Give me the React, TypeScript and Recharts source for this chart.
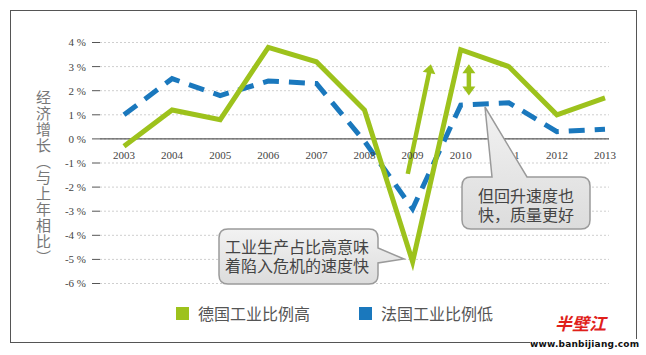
import { LineChart, Line, XAxis, YAxis, CartesianGrid, ReferenceLine, LabelList } from 'recharts';

const years = [2003, 2004, 2005, 2006, 2007, 2008, 2009, 2010, 2011, 2012, 2013];
const germany = [-0.3, 1.2, 0.8, 3.8, 3.2, 1.2, -5.1, 3.7, 3.0, 1.0, 1.7];
const france = [1.0, 2.5, 1.8, 2.4, 2.3, -0.1, -2.9, 1.4, 1.5, 0.3, 0.4];
const yTicks = [-6, -5, -4, -3, -2, -1, 0, 1, 2, 3, 4];

const GREEN = '#9dc21c';
const BLUE = '#1a78bd';
const TEXT = '#444';
const CJK = '"Noto Sans CJK SC", "Noto Sans", sans-serif';

const data = years.map((year, i) => ({ year, germany: germany[i], france: france[i] }));

// arrow drawn along a reference segment, head at the end (and start if both)
function arrowShape(both: boolean) {
  return (p: any) => {
    const { x1, y1, x2, y2 } = p;
    const a = Math.atan2(y2 - y1, x2 - x1);
    const L = 9;
    const W = 6.5;
    const head = (x: number, y: number, ang: number) => {
      const bx = x - L * Math.cos(ang);
      const by = y - L * Math.sin(ang);
      const nx = -Math.sin(ang) * W;
      const ny = Math.cos(ang) * W;
      return `${x},${y} ${bx + nx},${by + ny} ${bx - nx},${by - ny}`;
    };
    const sx = both ? x1 + (L - 1) * Math.cos(a) : x1;
    const sy = both ? y1 + (L - 1) * Math.sin(a) : y1;
    const ex = x2 - (L - 1) * Math.cos(a);
    const ey = y2 - (L - 1) * Math.sin(a);
    return (
      <g>
        <line x1={sx} y1={sy} x2={ex} y2={ey} stroke={GREEN} strokeWidth={4.5} />
        <polygon points={head(x2, y2, a)} fill={GREEN} />
        {both && <polygon points={head(x1, y1, a + Math.PI)} fill={GREEN} />}
      </g>
    );
  };
}

function Bubbles() {
  const r = 9;
  const box1 = { x0: 219, y0: 229, x1: 378, y1: 284 };
  const box2 = { x0: 462, y0: 177, x1: 590, y1: 229 };
  const p1 =
    `M${box1.x0 + r},${box1.y0} H${box1.x1 - r} Q${box1.x1},${box1.y0} ${box1.x1},${box1.y0 + r} ` +
    `V248 L404,259 L${box1.x1},263 V${box1.y1 - r} Q${box1.x1},${box1.y1} ${box1.x1 - r},${box1.y1} ` +
    `H${box1.x0 + r} Q${box1.x0},${box1.y1} ${box1.x0},${box1.y1 - r} V${box1.y0 + r} Q${box1.x0},${box1.y0} ${box1.x0 + r},${box1.y0} Z`;
  const p2 =
    `M${box2.x0 + r},${box2.y0} H492 L485,107 L527,${box2.y0} H${box2.x1 - r} Q${box2.x1},${box2.y0} ${box2.x1},${box2.y0 + r} ` +
    `V${box2.y1 - r} Q${box2.x1},${box2.y1} ${box2.x1 - r},${box2.y1} H${box2.x0 + r} Q${box2.x0},${box2.y1} ${box2.x0},${box2.y1 - r} ` +
    `V${box2.y0 + r} Q${box2.x0},${box2.y0} ${box2.x0 + r},${box2.y0} Z`;
  return (
    <svg width={646} height={355} style={{ position: 'absolute', left: 0, top: 0, pointerEvents: 'none' }}>
      <defs>
        <linearGradient id="bubble" x1="0" y1="0" x2="0" y2="1">
          <stop offset="0%" stopColor="#f2f2f2" />
          <stop offset="100%" stopColor="#dcdcdc" />
        </linearGradient>
      </defs>
      <path d={p1} fill="url(#bubble)" stroke="#9a9a9a" strokeWidth={1.5} />
      <path d={p2} fill="url(#bubble)" stroke="#9a9a9a" strokeWidth={1.5} />
    </svg>
  );
}

// one text node, wrapped by width so the two lines stay a single block
function BubbleText({ left, top, lh, width, text }: { left: number; top: number; lh: number; width: number; text: string }) {
  return (
    <div
      style={{
        position: 'absolute',
        left,
        top,
        width,
        fontFamily: CJK,
        fontSize: 16,
        lineHeight: `${lh}px`,
        color: TEXT,
        wordBreak: 'break-all',
      }}
    >
      {text}
    </div>
  );
}

function LegendItem({ color, label, left }: { color: string; label: string; left: number }) {
  return (
    <div style={{ position: 'absolute', left, top: 303, display: 'flex', alignItems: 'center', gap: 9 }}>
      <div style={{ width: 13, height: 13, background: color }} />
      <span style={{ fontFamily: CJK, fontSize: 16, color: '#555', lineHeight: '20px' }}>{label}</span>
    </div>
  );
}

export default function App() {
  return (
    <div style={{ position: 'absolute', left: 0, top: 0, width: 646, height: 355, background: '#fff', overflow: 'hidden' }}>
      <div
        style={{
          position: 'absolute',
          left: 10,
          top: 10,
          width: 627,
          height: 333,
          boxSizing: 'border-box',
          border: '1px solid #555',
        }}
      />
      <div
        style={{
          position: 'absolute',
          left: 35,
          top: 90,
          writingMode: 'vertical-rl',
          fontFamily: CJK,
          fontSize: 15,
          lineHeight: '16px',
          letterSpacing: 1,
          color: '#777',
        }}
      >
        经济增长（与上年相比）
      </div>
      <div style={{ position: 'absolute', left: 0, top: 0 }}>
        <LineChart width={646} height={355} data={data} margin={{ top: 42.5, right: 37, bottom: 71.5, left: 10 }}>
          <CartesianGrid vertical={false} stroke="#cfcfcf" strokeDasharray="2 2" />
          <XAxis dataKey="year" type="number" domain={[2003, 2013]} hide padding={{ left: 24, right: 4 }} />
          <YAxis
            type="number"
            domain={[-6, 4]}
            ticks={yTicks}
            width={90}
            axisLine={false}
            tickLine={{ stroke: '#555' }}
            tickSize={8}
            tickMargin={6}
            tickFormatter={(v: number) => `${v} %`}
            tick={{ fill: TEXT, fontSize: 11, fontFamily: '"Liberation Serif", serif' }}
          />
          <ReferenceLine y={0} stroke="#333" strokeWidth={1} />
          <Line dataKey={() => 0} stroke="none" dot={false} activeDot={false} isAnimationActive={false}>
            <LabelList dataKey="year" position="bottom" offset={12} fill={TEXT} fontSize={11} fontFamily='"Liberation Serif", serif' />
          </Line>
          <Line
            dataKey="france"
            stroke={BLUE}
            strokeWidth={5}
            strokeDasharray="16 10"
            dot={false}
            activeDot={false}
            isAnimationActive={false}
          />
          <Line dataKey="germany" stroke={GREEN} strokeWidth={5} dot={false} activeDot={false} isAnimationActive={false} />
          <ReferenceLine
            segment={[
              { x: 2008.9, y: -1.45 },
              { x: 2009.38, y: 3.1 },
            ]}
            shape={arrowShape(false)}
          />
          <ReferenceLine
            segment={[
              { x: 2010.17, y: 3.1 },
              { x: 2010.17, y: 1.8 },
            ]}
            shape={arrowShape(true)}
          />
        </LineChart>
      </div>
      <Bubbles />
      <BubbleText left={225} top={237} lh={18.5} width={146} text="工业生产占比高意味着陷入危机的速度快" />
      <BubbleText left={478} top={185.5} lh={19} width={98} text="但回升速度也快，质量更好" />
      <LegendItem color={GREEN} label="德国工业比例高" left={176} />
      <LegendItem color={BLUE} label="法国工业比例低" left={359} />
      <div
        style={{
          position: 'absolute',
          left: 555,
          top: 313,
          fontFamily: CJK,
          fontSize: 17,
          fontStyle: 'italic',
          fontWeight: 700,
          color: '#e0201a',
          lineHeight: '20px',
        }}
      >
        半壁江
      </div>
      <div
        style={{
          position: 'absolute',
          left: 530,
          top: 339,
          fontFamily: '"DejaVu Sans", sans-serif',
          fontSize: 9,
          fontWeight: 700,
          color: '#111',
          lineHeight: '10px',
          letterSpacing: 0.2,
          background: '#fff',
        }}
      >
        www.banbijiang.com
      </div>
    </div>
  );
}
